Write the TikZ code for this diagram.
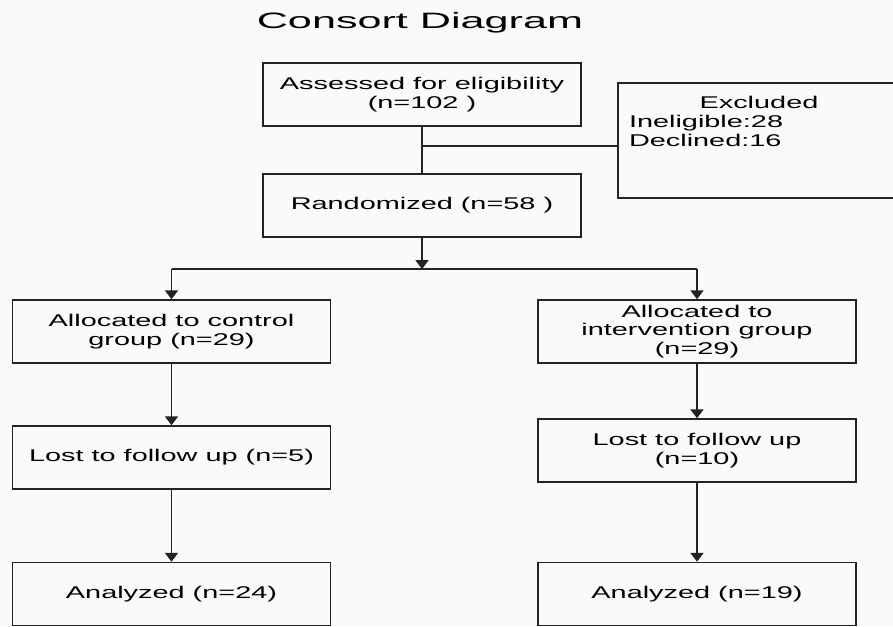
\documentclass[tikz,border=0pt]{standalone}
\usepackage{fontspec}
\setmainfont{Liberation Sans}[FakeStretch=1.7]
\newfontfamily\titlefont{Liberation Sans}[FakeStretch=1.94]
\usetikzlibrary{arrows.meta, positioning}
\definecolor{pagebg}{RGB}{250,250,250}
\definecolor{ink}{RGB}{35,35,35}

\begin{document}
\begin{tikzpicture}[
  box/.style={rectangle,draw=ink,line width=1.3pt,minimum width=9.54cm,minimum height=1.89cm,align=center,inner sep=2pt,font=\fontsize{14.5}{15.7}\selectfont},
  exbox/.style={rectangle,draw=ink,line width=1.3pt,minimum width=8.46cm,minimum height=3.45cm},
  line/.style={draw=ink,line width=1.3pt},
  arr/.style={line,-{Triangle[width=11pt,length=7.5pt]}}
]
  \fill[pagebg] (0,0) rectangle (26.79,-18.78);
  \useasboundingbox (0,0) rectangle (26.79,-18.78);

  \node[anchor=base,font=\titlefont\fontsize{19}{22}\selectfont] (title) at (12.6,-0.84) {Consort Diagram};

  % screening
  \node[box] (assess) at (12.66,-2.835) {Assessed for eligibility\\(n=102 )};
  \node[box] (rand)   at (12.66,-6.165) {Randomized (n=58 )};
  \node[exbox] (excl) at (22.77,-4.215) {};
  \node[below=0.4cm of excl.north,text width=7.8cm,align=left,inner sep=0pt,
        font=\fontsize{14.5}{16.2}\selectfont] (excltxt)
        {\makebox[7.8cm][c]{Excluded}\\Ineligible:28\\Declined:16};

  % two arms
  \node[box] (ctrl)  at (5.145,-9.945)  {Allocated to control\\group (n=29)};
  \node[box] (intv)  at (20.91,-9.945)  {Allocated to\\intervention group\\(n=29)};
  \node[box] (lostc) at (5.145,-13.725) {Lost to follow up (n=5)};
  \node[box] (losti) at (20.91,-13.515) {Lost to follow up\\(n=10)};
  \node[box] (anac)  at (5.145,-17.82)  {Analyzed (n=24)};
  \node[box] (anai)  at (20.91,-17.82)  {Analyzed (n=19)};

  \coordinate (jn)    at (12.66,-4.38);
  \coordinate (fork)  at (12.66,-8.07);
  \coordinate (forkL) at (ctrl.north |- fork);
  \coordinate (forkR) at (intv.north |- fork);

  \draw[line](assess)--(rand);
  \draw[line](jn)--(jn -| excl.west);
  \draw[arr](rand)--(fork);
  \draw[line](forkL)--(forkR);
  \draw[arr](forkL)--(ctrl); \draw[arr](forkR)--(intv);
  \draw[arr](ctrl)--(lostc); \draw[arr](lostc)--(anac);
  \draw[arr](intv)--(losti); \draw[arr](losti)--(anai);
\end{tikzpicture}
\end{document}
